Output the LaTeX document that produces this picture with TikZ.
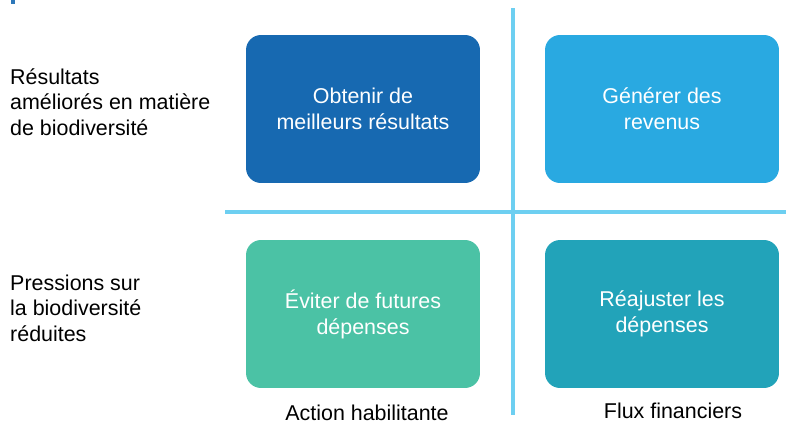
\documentclass[tikz,border=0pt]{standalone}
\usepackage{fontspec}
\setmainfont{Liberation Sans}
\usepackage{tikz}
\usetikzlibrary{shapes,arrows,positioning}

\definecolor{bluedark}{HTML}{1769B1}
\definecolor{bluelight}{HTML}{29A9E1}
\definecolor{greenmint}{HTML}{4BC2A5}
\definecolor{tealmid}{HTML}{22A3B9}
\definecolor{divider}{HTML}{6DCFF1}

\begin{document}
\begin{tikzpicture}[x=0.02cm, y=-0.02cm,
    quadbox/.style={rounded corners=0.3cm, minimum width=4.68cm, minimum height=2.96cm,
      text=white, align=center, font=\fontsize{12.2}{14.8}\selectfont},
    sidelabel/.style={anchor=west, align=left, font=\fontsize{12.2}{14.6}\selectfont},
    axislabel/.style={font=\fontsize{12.2}{14.6}\selectfont},
    divline/.style={draw=divider, line width=2.3pt}]
      \useasboundingbox (0,0) rectangle (786,426);
       % mark
       \fill[bluedark!90!white] (11,0) rectangle (15,4);
       % dividers
       \coordinate (hl) at (225,212);
       \coordinate (hr) at (786,212);
       \coordinate (vt) at (513,8);
       \coordinate (vb) at (513,415);
       \draw[divline] (hl) -- (hr);
       \draw[divline] (vt) -- (vb);

       % boxes
       \node[quadbox, fill=bluedark] (better) at (363,109) {Obtenir de\\meilleurs résultats};
       \node[quadbox, fill=bluelight] (revenue) at (662,109) {Générer des\\revenus};
       \node[quadbox, fill=greenmint] (avoid) at (363,314) {Éviter de futures\\dépenses};
       \node[quadbox, fill=tealmid] (realign) at (662,314) {Réajuster les\\dépenses};

       % labels
       \node[sidelabel] (outcomes) at (4,102) {Résultats\\améliorés en matière\\de biodiversité};
       \node[sidelabel] (pressures) at (4,308) {Pressions sur\\la biodiversité\\réduites};
       \node[axislabel] (enabling) at (367,413) {Action habilitante};
       \node[axislabel] (flows) at (673,411) {Flux financiers};
    \end{tikzpicture}
\end{document}
